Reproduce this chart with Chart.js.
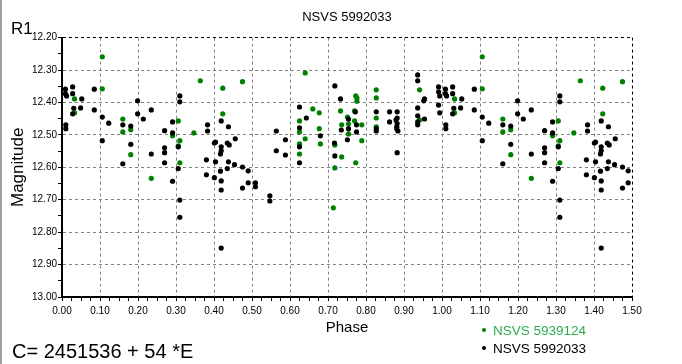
<!DOCTYPE html>
<html>
<head>
<meta charset="utf-8">
<script src="https://cdn.jsdelivr.net/npm/chart.js@4.4.1/dist/chart.umd.min.js"></script>
<style>
  html, body { margin: 0; padding: 0; background: #fff; }
  #wrap { position: relative; width: 682px; height: 364px; overflow: hidden; font-family: 'Liberation Sans', Arial, sans-serif; }
  #frame { position: absolute; left: 0; top: 0; width: 2px; height: 364px; background: #a0a0a0; }
  #band { position: absolute; left: 11px; top: 19px; font-size: 17px; color: #000; }
  #epoch { position: absolute; left: 12px; top: 340px; font-size: 20px; color: #000; white-space: nowrap; }
  #legend { position: absolute; left: 479px; top: 322px; font-size: 13.5px; line-height: 18px; }
  #legend div { white-space: nowrap; }
  #legend span.dot { display: inline-block; width: 4px; height: 4px; border-radius: 2px; margin: 0 7px 2px 3px; vertical-align: middle; }
</style>
</head>
<body>
<div id="wrap">
  <canvas id="chart" width="682" height="364"></canvas>
  <div id="frame"></div>
  <div id="band">R1</div>
  <div id="epoch">C= 2451536 + 54 *E</div>
  <div id="legend"></div>
</div>
<script>
// phase / magnitude (phase 0..1, the first half is shown again after 1.0)
const blackPhase = [
  0.009, 0.028, 0.009, 0.012, 0.028, 0.052, 0.085, 0.031, 0.049, 0.028,
  0.085, 0.010, 0.010, 0.106, 0.123, 0.199, 0.199, 0.235, 0.214, 0.160,
  0.181, 0.310, 0.310, 0.291, 0.270, 0.291, 0.106, 0.181, 0.270, 0.306,
  0.270, 0.235, 0.270, 0.160, 0.306, 0.291, 0.310, 0.310, 0.383, 0.383,
  0.419, 0.438, 0.456, 0.404, 0.401, 0.435, 0.440, 0.419, 0.419, 0.417,
  0.380, 0.404, 0.438, 0.454, 0.475, 0.435, 0.380, 0.417, 0.401, 0.419,
  0.419, 0.490, 0.490, 0.475, 0.509, 0.509, 0.547, 0.547, 0.419, 0.564,
  0.588, 0.564, 0.588, 0.625, 0.643, 0.625, 0.680, 0.625, 0.625, 0.717,
  0.718, 0.735, 0.718, 0.733, 0.936, 0.936, 0.991, 0.991, 0.994, 0.954,
  0.952, 0.936, 0.991, 0.994, 0.954, 0.936, 0.936, 0.936, 0.882, 0.879,
  0.882, 0.881, 0.881, 0.884, 0.862, 0.862, 0.882, 0.827, 0.827, 0.827,
  0.772, 0.754, 0.775, 0.754, 0.775, 0.751, 0.882
];
const blackMag = [
  12.359, 12.352, 12.373, 12.380, 12.373, 12.389, 12.359, 12.418, 12.417, 12.435,
  12.423, 12.469, 12.481, 12.445, 12.464, 12.395, 12.435, 12.423, 12.451, 12.469,
  12.473, 12.380, 12.398, 12.460, 12.487, 12.494, 12.518, 12.529, 12.540, 12.537,
  12.555, 12.559, 12.586, 12.589, 12.604, 12.643, 12.701, 12.754, 12.469, 12.488,
  12.457, 12.475, 12.512, 12.522, 12.525, 12.525, 12.531, 12.537, 12.549, 12.559,
  12.577, 12.583, 12.583, 12.592, 12.599, 12.604, 12.623, 12.612, 12.632, 12.642,
  12.670, 12.611, 12.648, 12.664, 12.648, 12.660, 12.688, 12.704, 12.849, 12.488,
  12.515, 12.549, 12.562, 12.414, 12.448, 12.478, 12.503, 12.537, 12.586, 12.525,
  12.565, 12.485, 12.349, 12.389, 12.315, 12.333, 12.352, 12.367, 12.380, 12.389,
  12.395, 12.417, 12.408, 12.432, 12.451, 12.441, 12.460, 12.469, 12.448, 12.454,
  12.465, 12.475, 12.481, 12.488, 12.429, 12.460, 12.429, 12.429, 12.481, 12.488,
  12.429, 12.451, 12.469, 12.481, 12.491, 12.515, 12.555
];
const greenPhase = [
  0.106, 0.106, 0.033, 0.033, 0.364, 0.160, 0.160, 0.181, 0.306, 0.291,
  0.347, 0.310, 0.306, 0.181, 0.310, 0.235, 0.423, 0.475, 0.640, 0.423,
  0.660, 0.677, 0.625, 0.625, 0.677, 0.640, 0.625, 0.680, 0.625, 0.733,
  0.736, 0.718, 0.736, 0.718, 0.714, 0.827, 0.827, 0.773, 0.776, 0.776,
  0.770, 0.751, 0.770, 0.754, 0.789, 0.827, 0.827, 0.754, 0.789, 0.941,
  0.941, 0.773
];
const greenMag = [
  12.259, 12.358, 12.389, 12.432, 12.333, 12.451, 12.491, 12.484, 12.457, 12.503,
  12.494, 12.518, 12.534, 12.561, 12.586, 12.634, 12.356, 12.336, 12.309, 12.435,
  12.420, 12.432, 12.457, 12.491, 12.481, 12.512, 12.528, 12.528, 12.559, 12.426,
  12.469, 12.531, 12.568, 12.602, 12.725, 12.361, 12.386, 12.380, 12.386, 12.396,
  12.426, 12.445, 12.457, 12.466, 12.469, 12.448, 12.475, 12.497, 12.518, 12.361,
  12.454, 12.586
];

const seriesNames = ['NSVS 5939124', 'NSVS 5992033'];
const seriesColors = ['#008000', '#000000'];
const legendTextColors = ['#2aae4a', '#000000'];

const phaseMin = 0, phaseMax = 1.5, phaseStep = 0.025;
const magMin = 12.2, magMax = 13.0, magStep = 0.05;

// one cycle plus the first half repeated, like the original plot
function foldPoints(phases, mags) {
    const pts = phases.map((p, i) => ({ x: p, y: mags[i] }));
    phases.forEach((p, i) => {
        if (p + 1 <= phaseMax) pts.push({ x: p + 1, y: mags[i] });
    });
    return pts;
}

function isMajor(v) {
    return Math.abs(v * 10 - Math.round(v * 10)) < 1e-6;
}

const tickFont = { family: "'Liberation Sans', Arial, sans-serif", size: 10 };

const chart = new Chart(document.getElementById('chart'), {
    type: 'scatter',
    data: {
        datasets: [{
            label: seriesNames[1],
            data: foldPoints(blackPhase, blackMag),
            backgroundColor: seriesColors[1],
            pointRadius: 2.6,
            borderWidth: 0
        }, {
            label: seriesNames[0],
            data: foldPoints(greenPhase, greenMag),
            backgroundColor: seriesColors[0],
            pointRadius: 2.6,
            borderWidth: 0
        }]
    },
    options: {
        responsive: false,
        animation: false,
        layout: { padding: { left: 0, right: 50, top: 0, bottom: 27 } },
        plugins: {
            legend: { display: false },
            tooltip: { enabled: false },
            title: {
                display: true,
                fullSize: false,
                text: 'NSVS 5992033',
                color: '#000',
                font: { family: "'Liberation Sans', Arial, sans-serif", size: 13, weight: 'normal' },
                padding: { top: 10, bottom: 12 }
            }
        },
        scales: {
            x: {
                type: 'linear',
                min: phaseMin,
                max: phaseMax,
                afterFit: function(scale) { scale.height = 40; },
                ticks: {
                    stepSize: phaseStep,
                    maxTicksLimit: 100,
                    autoSkip: false,
                    maxRotation: 0,
                    padding: 4,
                    color: '#000',
                    font: tickFont,
                    callback: v => isMajor(v) ? v.toFixed(2) : ''
                },
                grid: {
                    color: ctx => {
                        const v = ctx.tick ? ctx.tick.value : 0;
                        if (!isMajor(v)) return 'rgba(0,0,0,0)';
                        return Math.abs(v - phaseMax) < 1e-6 ? '#000' : '#808080';
                    },
                    tickColor: '#000',
                    tickLength: 4,
                    lineWidth: 1
                },
                border: { display: true, color: '#000', width: 2, dash: [3, 3] },
                title: {
                    display: true,
                    text: 'Phase',
                    color: '#000',
                    font: { family: "'Liberation Sans', Arial, sans-serif", size: 15 },
                    padding: { top: 0, bottom: 0 }
                }
            },
            y: {
                min: magMin,
                max: magMax,
                reverse: true,
                afterFit: function(scale) { scale.width = 62; },
                ticks: {
                    stepSize: magStep,
                    maxTicksLimit: 100,
                    autoSkip: false,
                    padding: 1,
                    color: '#000',
                    font: tickFont,
                    callback: v => isMajor(v) ? v.toFixed(2) : ''
                },
                grid: {
                    color: ctx => {
                        const v = ctx.tick ? ctx.tick.value : 0;
                        if (!isMajor(v)) return 'rgba(0,0,0,0)';
                        return Math.abs(v - magMin) < 1e-6 ? '#000' : '#808080';
                    },
                    tickColor: '#000',
                    tickLength: 4,
                    lineWidth: 1
                },
                border: { display: true, color: '#000', width: 2, dash: [3, 3] },
                title: {
                    display: true,
                    text: 'Magnitude',
                    color: '#000',
                    font: { family: "'Liberation Sans', Arial, sans-serif", size: 17 },
                    padding: { top: 8, bottom: 0 }
                }
            }
        }
    }
});

// legend drawn as text under the plot, right side
const legend = document.getElementById('legend');
seriesNames.forEach((name, i) => {
    const row = document.createElement('div');
    row.innerHTML = '<span class="dot" style="background:' + seriesColors[i] + '"></span>' +
        '<span style="color:' + legendTextColors[i] + '">' + name + '</span>';
    legend.appendChild(row);
});
</script>
</body>
</html>
